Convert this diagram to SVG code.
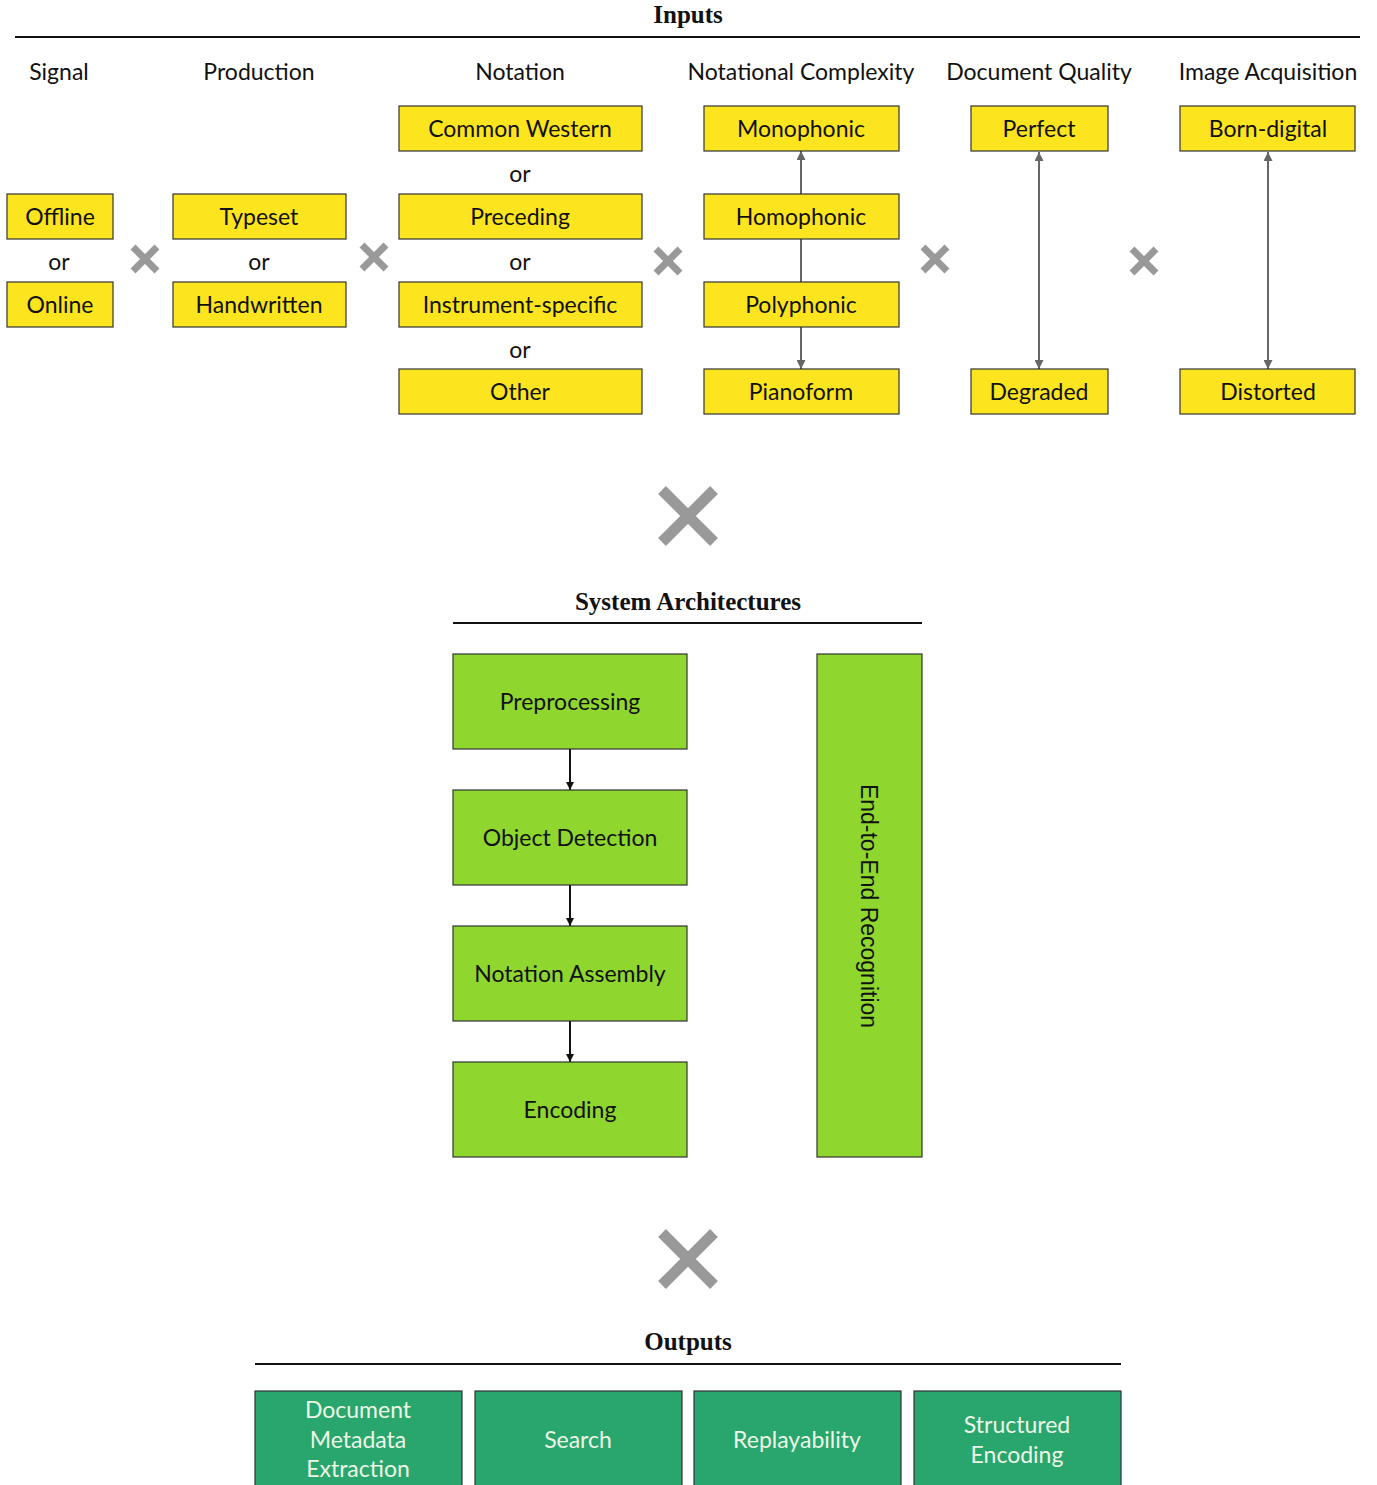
<svg xmlns="http://www.w3.org/2000/svg" width="1377" height="1485" viewBox="0 0 1377 1485">
<defs>
<style>
.t{font-family:Lato,"Noto Sans",sans-serif;font-size:23px;fill:#111;text-anchor:middle;dominant-baseline:central}
.h{font-family:"Liberation Serif",serif;font-weight:bold;font-size:25px;fill:#111;text-anchor:middle;dominant-baseline:central}
.y{fill:#fce51e;stroke:#333;stroke-width:1.2}
.g{fill:#8fd62e;stroke:#333;stroke-width:1.2}
.d{fill:#28a66d;stroke:#333;stroke-width:1.2}
.w{fill:#eef6e6}
.rule{stroke:#111;stroke-width:2}
.xs{stroke:#999;stroke-width:7}
.xl{stroke:#999;stroke-width:11}
.ga{stroke:#666;stroke-width:2;fill:none}
.ba{stroke:#111;stroke-width:2;fill:none}
</style>
<marker id="mg" viewBox="0 0 10 10" refX="10" refY="5" markerWidth="4.5" markerHeight="4.5" orient="auto-start-reverse"><path d="M0,0L10,5L0,10z" fill="#666"/></marker>
<marker id="mb" viewBox="0 0 10 10" refX="10" refY="5" markerWidth="4" markerHeight="4" orient="auto"><path d="M0,0L10,5L0,10z" fill="#111"/></marker>
</defs>
<g id="headers">
<text class="h" x="688" y="14">Inputs</text>
<line class="rule" x1="15" y1="37" x2="1360" y2="37"/>
<text class="t" x="59" y="71">Signal</text>
<text class="t" x="259" y="71">Production</text>
<text class="t" x="520" y="71">Notation</text>
<text class="t" x="801" y="71">Notational Complexity</text>
<text class="t" x="1039" y="71">Document Quality</text>
<text class="t" x="1268" y="71">Image Acquisition</text>
<text class="t" x="59" y="261">or</text>
<text class="t" x="259" y="261">or</text>
<text class="t" x="520" y="173">or</text>
<text class="t" x="520" y="261">or</text>
<text class="t" x="520" y="349">or</text>
<text class="h" x="688" y="601">System Architectures</text>
<line class="rule" x1="453" y1="623" x2="922" y2="623"/>
<text class="h" x="688" y="1341">Outputs</text>
<line class="rule" x1="255" y1="1364" x2="1121" y2="1364"/>
</g>
<g id="connectors">
<line class="ga" x1="801" y1="240" x2="801" y2="151" marker-end="url(#mg)"/>
<line class="ga" x1="801" y1="239" x2="801" y2="282"/>
<line class="ga" x1="801" y1="327" x2="801" y2="369" marker-end="url(#mg)"/>
<line class="ga" x1="1039" y1="152" x2="1039" y2="369" marker-start="url(#mg)" marker-end="url(#mg)"/>
<line class="ga" x1="1268" y1="152" x2="1268" y2="369" marker-start="url(#mg)" marker-end="url(#mg)"/>
<line class="ba" x1="570" y1="749" x2="570" y2="790" marker-end="url(#mb)"/>
<line class="ba" x1="570" y1="885" x2="570" y2="926" marker-end="url(#mb)"/>
<line class="ba" x1="570" y1="1021" x2="570" y2="1062" marker-end="url(#mb)"/>
</g>
<g id="times">
<path class="xs" d="M133,247L157,271M157,247L133,271"/>
<path class="xs" d="M362,245L386,269M386,245L362,269"/>
<path class="xs" d="M656,249L680,273M680,249L656,273"/>
<path class="xs" d="M923,247L947,271M947,247L923,271"/>
<path class="xs" d="M1132,249L1156,273M1156,249L1132,273"/>
<path class="xl" d="M662,490L714,542M714,490L662,542"/>
<path class="xl" d="M662,1233L714,1285M714,1233L662,1285"/>
</g>
<g id="offline"><rect class="y" x="7" y="194" width="106" height="45"/><text class="t" x="60" y="216">Offline</text></g>
<g id="online"><rect class="y" x="7" y="282" width="106" height="45"/><text class="t" x="60" y="304">Online</text></g>
<g id="typeset"><rect class="y" x="173" y="194" width="173" height="45"/><text class="t" x="259" y="216">Typeset</text></g>
<g id="handwritten"><rect class="y" x="173" y="282" width="173" height="45"/><text class="t" x="259" y="304">Handwritten</text></g>
<g id="cwn"><rect class="y" x="399" y="106" width="243" height="45"/><text class="t" x="520" y="128">Common Western</text></g>
<g id="preceding"><rect class="y" x="399" y="194" width="243" height="45"/><text class="t" x="520" y="216">Preceding</text></g>
<g id="instrument"><rect class="y" x="399" y="282" width="243" height="45"/><text class="t" x="520" y="304">Instrument-specific</text></g>
<g id="other"><rect class="y" x="399" y="369" width="243" height="45"/><text class="t" x="520" y="391">Other</text></g>
<g id="mono"><rect class="y" x="704" y="106" width="195" height="45"/><text class="t" x="801" y="128">Monophonic</text></g>
<g id="homo"><rect class="y" x="704" y="194" width="195" height="45"/><text class="t" x="801" y="216">Homophonic</text></g>
<g id="poly"><rect class="y" x="704" y="282" width="195" height="45"/><text class="t" x="801" y="304">Polyphonic</text></g>
<g id="piano"><rect class="y" x="704" y="369" width="195" height="45"/><text class="t" x="801" y="391">Pianoform</text></g>
<g id="perfect"><rect class="y" x="971" y="106" width="137" height="45"/><text class="t" x="1039" y="128">Perfect</text></g>
<g id="degraded"><rect class="y" x="971" y="369" width="137" height="45"/><text class="t" x="1039" y="391">Degraded</text></g>
<g id="born"><rect class="y" x="1180" y="106" width="175" height="45"/><text class="t" x="1268" y="128">Born-digital</text></g>
<g id="distorted"><rect class="y" x="1180" y="369" width="175" height="45"/><text class="t" x="1268" y="391">Distorted</text></g>
<g id="prep"><rect class="g" x="453" y="654" width="234" height="95"/><text class="t" x="570" y="701">Preprocessing</text></g>
<g id="objdet"><rect class="g" x="453" y="790" width="234" height="95"/><text class="t" x="570" y="837">Object Detection</text></g>
<g id="assembly"><rect class="g" x="453" y="926" width="234" height="95"/><text class="t" x="570" y="973">Notation Assembly</text></g>
<g id="encoding"><rect class="g" x="453" y="1062" width="234" height="95"/><text class="t" x="570" y="1109">Encoding</text></g>
<g id="e2e"><rect class="g" x="817" y="654" width="105" height="503"/><text x="869" y="906" transform="rotate(90 869 906)" style="font-family:'Liberation Sans',Arial,sans-serif;font-size:23px;fill:#111;text-anchor:middle;dominant-baseline:central">End-to-End Recognition</text></g>
<g id="docmeta"><rect class="d" x="255" y="1391" width="207" height="100"/><text class="t w" x="358" y="1409">Document</text><text class="t w" x="358" y="1439">Metadata</text><text class="t w" x="358" y="1468">Extraction</text></g>
<g id="search"><rect class="d" x="475" y="1391" width="207" height="100"/><text class="t w" x="578" y="1439">Search</text></g>
<g id="replay"><rect class="d" x="694" y="1391" width="207" height="100"/><text class="t w" x="797" y="1439">Replayability</text></g>
<g id="structured"><rect class="d" x="914" y="1391" width="207" height="100"/><text class="t w" x="1017" y="1424">Structured</text><text class="t w" x="1017" y="1454">Encoding</text></g>
</svg>
